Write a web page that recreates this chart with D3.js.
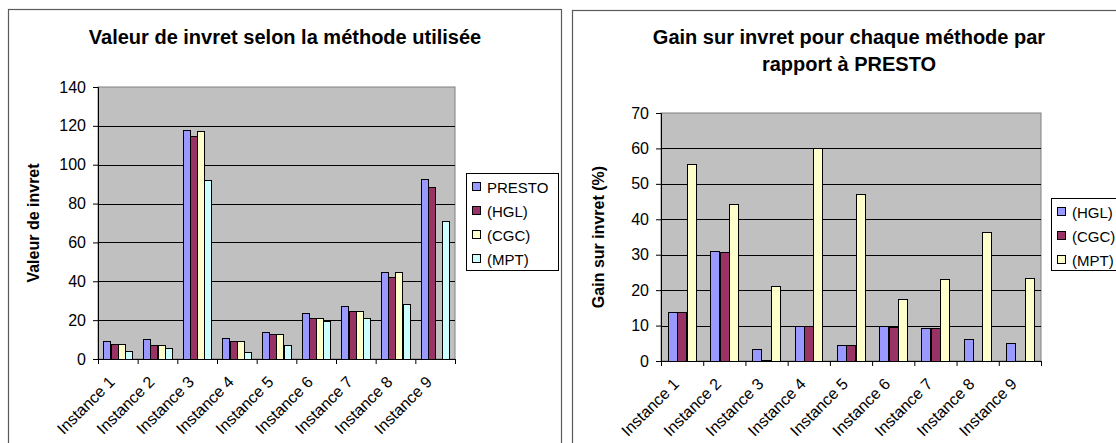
<!DOCTYPE html>
<html>
<head>
<meta charset="utf-8">
<script src="https://cdn.jsdelivr.net/npm/d3@7"></script>
<style>
  html, body { margin: 0; padding: 0; background: #fff; }
  svg { display: block; }
  text { font-family: "Liberation Sans", Arial, sans-serif; fill: #000; }
</style>
</head>
<body>
<svg id="chart" width="1116" height="443"></svg>
<script>
// ---------- data ----------
const categories = ["Instance 1", "Instance 2", "Instance 3", "Instance 4", "Instance 5",
                    "Instance 6", "Instance 7", "Instance 8", "Instance 9"];

// Left chart: "Valeur de invret"
const leftSeriesNames = ["PRESTO", "(HGL)", "(CGC)", "(MPT)"];
const valPresto = [9.1, 10.1, 118.0, 10.6, 13.7, 23.6, 27.2, 44.8, 92.8];
const valHGL    = [7.5, 7.0, 114.6, 9.4, 13.0, 21.0, 24.6, 42.2, 88.7];
const valCGC    = [7.5, 7.0, 117.5, 9.4, 13.0, 21.0, 24.6, 44.8, 0];
const valMPT    = [4.1, 5.6, 92.3, 3.8, 7.0, 19.8, 21.0, 28.2, 70.8];
const leftTicks = [0, 20, 40, 60, 80, 100, 120, 140];

// Right chart: "Gain sur invret (%)"
const rightSeriesNames = ["(HGL)", "(CGC)", "(MPT)"];
const gainHGL = [13.8, 31.0, 3.4, 10.0, 4.5, 10.0, 9.4, 6.1, 5.0];
const gainCGC = [13.8, 30.7, 0.3, 10.0, 4.5, 9.7, 9.2, 0, 0];
const gainMPT = [55.5, 44.4, 21.2, 60.0, 47.2, 17.5, 23.2, 36.4, 23.4];
const rightTicks = [0, 10, 20, 30, 40, 50, 60, 70];

const leftColors  = ["#9999FF", "#993366", "#FFFFCC", "#CCFFFF"];
const rightColors = ["#9999FF", "#993366", "#FFFFCC"];

// ---------- drawing ----------
const svg = d3.select("#chart");

function drawChart(cfg) {
  const g = svg.append("g");

  // chart frame
  g.append("rect")
    .attr("x", cfg.frame[0] + 0.5).attr("y", cfg.frame[1] + 0.5)
    .attr("width", cfg.frame[2]).attr("height", cfg.frame[3])
    .attr("fill", "#fff").attr("stroke", "#5a5a5a").attr("stroke-width", 1.2);

  // title
  const title = g.append("text")
    .attr("x", cfg.titleX).attr("y", cfg.titleY)
    .attr("text-anchor", "middle")
    .style("font-size", "20px").style("font-weight", "bold");
  cfg.title.forEach((line, i) => {
    title.append("tspan").attr("x", cfg.titleX).attr("dy", i === 0 ? 0 : 26.5).text(line);
  });

  const [px0, py0, px1, py1] = cfg.plot;
  const x = d3.scaleBand().domain(categories).range([px0, px1]).paddingInner(0).paddingOuter(0);
  const xs = d3.scaleBand().domain(cfg.seriesNames).range([0, x.bandwidth()])
    .paddingInner(0).paddingOuter(0.75);
  const y = d3.scaleLinear().domain([cfg.ticks[0], cfg.ticks[cfg.ticks.length - 1]]).range([py1, py0]);

  // plot background
  g.append("rect").attr("x", px0).attr("y", py0)
    .attr("width", px1 - px0).attr("height", py1 - py0)
    .attr("fill", "#C0C0C0").attr("stroke", "#808080").attr("stroke-width", 1);

  // gridlines
  g.append("g").attr("transform", `translate(${px0},0)`)
    .call(d3.axisLeft(y).tickValues(cfg.ticks.slice(1, -1)).tickSize(-(px1 - px0)).tickFormat(""))
    .call(s => s.select(".domain").remove())
    .call(s => s.selectAll("line").attr("stroke", "#000").attr("shape-rendering", "crispEdges"));

  // bars
  cfg.series.forEach((vals, si) => {
    g.append("g").selectAll("rect")
      .data(vals.map((v, i) => ({ v, c: categories[i] })).filter(d => d.v > 0))
      .join("rect")
      .attr("x", d => Math.round(x(d.c) + xs(cfg.seriesNames[si])) + 0.5)
      .attr("y", d => Math.round(y(d.v)) + 0.5)
      .attr("width", Math.round(xs.bandwidth()))
      .attr("height", d => Math.max(0, Math.round(y(0)) - Math.round(y(d.v))))
      .attr("fill", cfg.colors[si]).attr("stroke", "#000").attr("stroke-width", 1);
  });

  // y axis
  const ya = g.append("g").attr("transform", `translate(${px0},0)`)
    .call(d3.axisLeft(y).tickValues(cfg.ticks).tickSize(5).tickPadding(7));
  ya.selectAll("line, path").attr("stroke", "#000");
  ya.selectAll("text").style("font-size", "16px").style("font-family", "Liberation Sans, Arial, sans-serif").attr("fill", "#000");

  // x axis (ticks at category boundaries)
  const xb = d3.scaleLinear().domain([0, categories.length]).range([px0, px1]);
  const xa = g.append("g").attr("transform", `translate(0,${py1})`)
    .call(d3.axisBottom(xb).tickValues(d3.range(categories.length + 1)).tickSize(5).tickFormat(""));
  xa.selectAll("line, path").attr("stroke", "#000");

  // category labels
  g.append("g").selectAll("text").data(categories).join("text")
    .attr("transform", d => `translate(${x(d) + x.bandwidth() / 2 + cfg.labelDx},${py1 + 24}) rotate(-45)`)
    .attr("text-anchor", "end")
    .style("font-size", "16px")
    .text(d => d);

  // y axis title
  g.append("text")
    .attr("transform", `translate(${cfg.yTitleX},${(py0 + py1) / 2}) rotate(-90)`)
    .attr("text-anchor", "middle")
    .style("font-size", "16px").style("font-weight", "bold")
    .text(cfg.yTitle);

  // legend
  const [lx, ly, lw, lh] = cfg.legend;
  g.append("rect").attr("x", lx + 0.5).attr("y", ly + 0.5).attr("width", lw).attr("height", lh)
    .attr("fill", "#fff").attr("stroke", "#000").attr("stroke-width", 1);
  const li = g.append("g").selectAll("g").data(cfg.seriesNames).join("g")
    .attr("transform", (d, i) => `translate(${lx + 6},${cfg.legendY0 + i * 24})`);
  li.append("rect").attr("x", 0.5).attr("y", -4.5).attr("width", 8).attr("height", 8)
    .attr("fill", (d, i) => cfg.colors[i]).attr("stroke", "#000");
  li.append("text").attr("x", 15).attr("y", 5.5).style("font-size", "15px").text(d => d);
}

drawChart({
  frame: [8, 9, 553, 450],
  title: ["Valeur de invret selon la méthode utilisée"],
  titleX: 285, titleY: 44,
  plot: [98, 87, 455, 359],
  seriesNames: leftSeriesNames,
  series: [valPresto, valHGL, valCGC, valMPT],
  colors: leftColors,
  ticks: leftTicks,
  labelDx: -2,
  yTitle: "Valeur de invret", yTitleX: 39,
  legend: [466, 173, 92, 97],
  legendY0: 187
});

drawChart({
  frame: [572, 10, 560, 450],
  title: ["Gain sur invret pour chaque méthode par", "rapport à PRESTO"],
  titleX: 849, titleY: 44,
  plot: [661, 113, 1041, 361],
  seriesNames: rightSeriesNames,
  series: [gainHGL, gainCGC, gainMPT],
  colors: rightColors,
  ticks: rightTicks,
  labelDx: -2,
  yTitle: "Gain sur invret (%)", yTitleX: 604,
  legend: [1051, 198, 80, 72],
  legendY0: 212
});
</script>
</body>
</html>
